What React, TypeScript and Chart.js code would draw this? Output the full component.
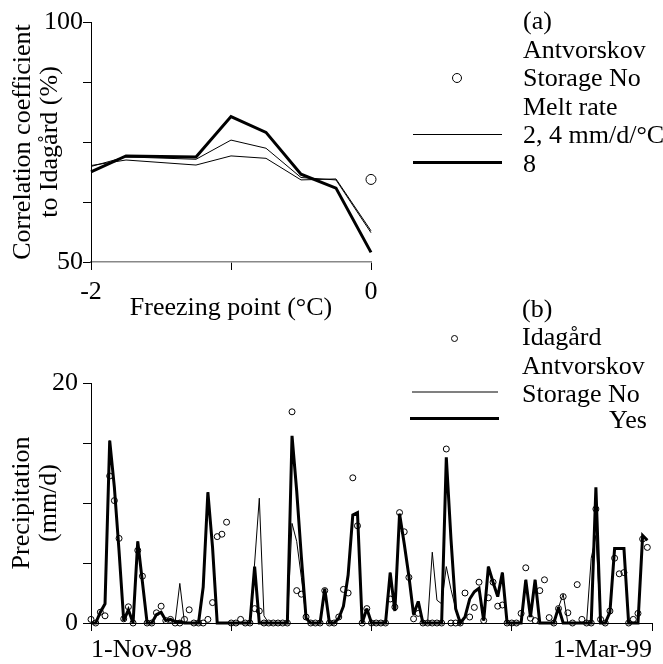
import React, { useEffect, useRef } from 'react';
import { Chart, registerables } from 'chart.js';

Chart.register(...registerables);

const FONT = '"Liberation Serif", "Times New Roman", serif';

// ---------- Panel (a) ----------
const FREEZE_X = [-2, -1.75, -1.25, -1, -0.75, -0.5, -0.25, 0];
const MELT_2 = [70.1, 71.25, 70.2, 72.1, 71.6, 67.1, 67.3, 56.5];
const MELT_4 = [69.9, 71.9, 71.4, 75.4, 73.7, 67.6, 67.1, 56.1];
const MELT_8 = [68.8, 72.1, 71.9, 80.3, 77.0, 68.3, 65.4, 52.0];
const ANT_NO_X = [0];
const ANT_NO_Y = [67.2];
const A_X_TICKS = [-2, -1, 0];
const A_X_LABELS = ['-2', '', '0'];
const A_Y_LABELED = [100, 50];

// ---------- Panel (b) ----------  daily values from 1-Nov-98
const IDAGARD = [
  0.3, 0, 0.9, 0.6, 12.25, 10.2, 7.05, 0.35, 1.35, 0,
  6.05, 3.9, 0, 0, 0.85, 1.4, 0.2, 0.3, 0, 0,
  0.3, 1.1, 0, 0, 0, 0.3, 1.7, 7.2, 7.4, 8.4,
  0, 0, 0.3, 0, 0, 1.2, 1.0, 0, 0, 0,
  0, 0, 0, 17.6, 2.7, 2.4, 0.5, 0, 0, 0,
  2.7, 0, 0, 0.5, 2.8, 2.5, 12.1, 8.1, 0, 1.2,
  0, 0, 0, 0, 2.0, 1.33, 9.2, 7.6, 3.8, 0.35,
  0.8, 0, 0, 0, 0, 0, 14.5, 0, 0, 0,
  2.5, 0.5, 1.3, 3.4, 0.2, 2.1, 3.4, 1.4, 1.5, 0,
  0, 0, 0.8, 4.6, 0.4, 0.2, 2.7, 3.6, 0.45, 0,
  1.2, 2.2, 0.85, 0, 3.2, 0.3, 0, 0, 9.5, 0.3,
  0, 1.0, 5.4, 4.1, 4.2, 0, 0.3, 0.8, 7.0, 6.3,
];
const STORAGE_NO = [
  0, 0, 0.9, 1.6, 15.2, 11.3, 6.0, 0.2, 1.1, 0,
  6.8, 3.4, 0, 0, 0.7, 0.9, 0.2, 0.3, 0.1, 3.3,
  0, 0, 0, 0, 3.0, 10.9, 6.3, 0, 0, 0,
  0, 0, 0, 0, 0, 5.0, 10.4, 0.6, 0, 0,
  0, 0, 0, 8.3, 6.8, 3.8, 0.4, 0, 0, 0,
  2.85, 0, 0, 0.4, 1.4, 4.0, 9.0, 9.2, 0, 1.2,
  0, 0, 0, 0, 4.2, 1.0, 9.1, 6.6, 3.9, 0.7,
  1.8, 0, 0, 5.9, 1.9, 1.6, 4.7, 2.8, 1.2, 0,
  0.5, 2.0, 2.6, 2.9, 0.2, 4.7, 3.4, 2.2, 4.2, 0,
  0, 0, 0, 3.6, 0.5, 3.6, 0, 0, 0, 0,
  1.3, 2.4, 0, 0, 0, 0, 0, 5.4, 7.3, 0,
  0, 0.9, 6.2, 6.2, 6.2, 0, 0, 0, 7.3, 6.9,
];
const STORAGE_YES = [
  0, 0, 0.9, 1.6, 15.2, 11.3, 6.0, 0.2, 1.1, 0,
  6.8, 3.4, 0, 0, 0.7, 0.9, 0.2, 0.3, 0.1, 0.1,
  0, 0, 0, 0, 3.0, 10.9, 6.3, 0, 0, 0,
  0, 0, 0, 0, 0, 4.7, 0, 0, 0, 0,
  0, 0, 0, 15.6, 11.0, 5.5, 0.4, 0, 0, 0,
  2.85, 0, 0, 0.4, 1.4, 4.0, 9.0, 9.2, 0, 1.2,
  0, 0, 0, 0, 4.2, 1.0, 9.1, 6.6, 3.9, 0.7,
  1.8, 0, 0, 0, 0, 0, 13.8, 7.0, 1.2, 0,
  0.5, 2.0, 2.6, 2.9, 0.2, 4.7, 3.4, 2.2, 4.2, 0,
  0, 0, 0, 3.6, 0.5, 3.6, 0, 0, 0, 0,
  1.3, 0, 0, 0, 0, 0, 0, 0, 11.3, 0,
  0, 0.9, 6.2, 6.2, 6.2, 0, 0, 0, 7.3, 6.9,
];
const B_X_TICKS = [0, 30, 60, 90, 120];
const B_X_LABELS = ['1-Nov-98', '', '', '', '1-Mar-99'];
const B_Y_LABELED = [20, 0];

const LEGEND_A = ['(a)', 'Antvorskov', 'Storage No', 'Melt rate', '2, 4 mm/d/°C', '8'];
const LEGEND_B = ['(b)', 'Idagård', 'Antvorskov', 'Storage No'];
const LEGEND_B_LAST = 'Yes';

const pts = (xs: number[], ys: number[]) => ys.map((y, i) => ({ x: xs[i], y }));
const dayPts = (ys: number[]) => ys.map((y, i) => ({ x: i, y }));

const W = 663;
const H = 664;

function tickFont(size = 26) {
  return { family: FONT, size, lineHeight: 1.2 };
}

// keep sharp joins from producing long spikes
const miterPlugin = {
  id: 'miterLimit',
  beforeDatasetsDraw(chart: any) {
    chart.ctx.miterLimit = 3;
  },
};

export default function App() {
  const refA = useRef<HTMLCanvasElement>(null);
  const refB = useRef<HTMLCanvasElement>(null);

  useEffect(() => {
    const chartA = new Chart(refA.current as HTMLCanvasElement, {
      type: 'line',
      plugins: [miterPlugin],
      data: {
        datasets: [
          { data: pts(FREEZE_X, MELT_8), borderColor: '#000', borderWidth: 3, pointRadius: 0, order: 1, clip: false } as any,
          { data: pts(FREEZE_X, MELT_4), borderColor: '#000', borderWidth: 1, pointRadius: 0, order: 2, clip: false },
          { data: pts(FREEZE_X, MELT_2), borderColor: '#000', borderWidth: 1, pointRadius: 0, order: 2, clip: false },
          {
            data: pts(ANT_NO_X, ANT_NO_Y), showLine: false, pointRadius: 5, pointBorderWidth: 1,
            pointBorderColor: '#000', pointBackgroundColor: '#fff', order: 0, clip: false,
          },
        ],
      },
      options: {
        animation: false,
        responsive: false,
        maintainAspectRatio: false,
        devicePixelRatio: 1,
        layout: { padding: { left: 0, top: 22, right: W - 371, bottom: H - 330 } },
        plugins: { legend: { display: false }, tooltip: { enabled: false } },
        scales: {
          x: {
            type: 'linear', min: -2, max: 0,
            afterFit: (s: any) => { s.height = 68; },
            afterBuildTicks: (s: any) => { s.ticks = A_X_TICKS.map((v) => ({ value: v })); },
            ticks: {
              autoSkip: false, maxRotation: 0, padding: 7, color: '#000', font: tickFont(26),
              callback: (v: any) => A_X_LABELS[A_X_TICKS.indexOf(Number(v))] ?? '',
            },
            grid: { drawOnChartArea: false, drawTicks: true, tickLength: 8, tickColor: '#000' },
            border: { display: true, color: '#888', width: 1.5 },
            title: {
              display: true, text: 'Freezing point (°C)', color: '#000',
              font: { family: FONT, size: 26, lineHeight: 1.2 }, padding: { top: 0, bottom: 6 },
            },
          },
          y: {
            type: 'linear', min: 50, max: 100,
            afterFit: (s: any) => { s.width = 91; },
            ticks: {
              stepSize: 12.5, padding: 0, color: '#000', font: tickFont(26),
              callback: (v: any) => (A_Y_LABELED.includes(Number(v)) ? String(v) : ''),
            },
            grid: { drawOnChartArea: false, drawTicks: true, tickLength: 8, tickColor: '#000' },
            border: { display: true, color: '#000', width: 1 },
            title: {
              display: true, text: ['Correlation coefficient', 'to Idagård (%)'], color: '#000',
              font: { family: FONT, size: 26, lineHeight: 1.04 }, padding: { top: 10, bottom: 0 },
            },
          },
        },
      } as any,
    });

    const chartB = new Chart(refB.current as HTMLCanvasElement, {
      type: 'line',
      plugins: [miterPlugin],
      data: {
        datasets: [
          { data: dayPts(STORAGE_NO), borderColor: '#000', borderWidth: 1, pointRadius: 0, order: 2, clip: false } as any,
          { data: dayPts(STORAGE_YES), borderColor: '#000', borderWidth: 3, pointRadius: 0, order: 1, clip: false },
          {
            data: dayPts(IDAGARD), showLine: false, pointRadius: 3, pointBorderWidth: 1,
            pointBorderColor: '#000', pointBackgroundColor: 'rgba(0,0,0,0)', order: 0, clip: false,
          },
        ],
      },
      options: {
        animation: false,
        responsive: false,
        maintainAspectRatio: false,
        devicePixelRatio: 1,
        layout: { padding: { left: 0, top: 383, right: W - 652, bottom: 0 } },
        plugins: { legend: { display: false }, tooltip: { enabled: false } },
        scales: {
          x: {
            type: 'linear', min: 0, max: 120,
            afterFit: (s: any) => { s.height = H - 623; },
            afterBuildTicks: (s: any) => { s.ticks = B_X_TICKS.map((v) => ({ value: v })); },
            ticks: {
              autoSkip: false, maxRotation: 0, padding: 4, align: 'inner', color: '#000', font: tickFont(26),
              callback: (v: any) => B_X_LABELS[B_X_TICKS.indexOf(Number(v))] ?? '',
            },
            grid: { drawOnChartArea: false, drawTicks: true, tickLength: 8, tickColor: '#000' },
            border: { display: true, color: '#000', width: 1 },
          },
          y: {
            type: 'linear', min: 0, max: 20,
            afterFit: (s: any) => { s.width = 91; },
            ticks: {
              stepSize: 5, padding: 5, color: '#000', font: tickFont(26),
              callback: (v: any) => (B_Y_LABELED.includes(Number(v)) ? String(v) : ''),
            },
            grid: { drawOnChartArea: false, drawTicks: true, tickLength: 8, tickColor: '#000' },
            border: { display: true, color: '#000', width: 1 },
            title: {
              display: true, text: ['Precipitation', '(mm/d)'], color: '#000',
              font: { family: FONT, size: 26, lineHeight: 1.04 }, padding: { top: 9, bottom: 0 },
            },
          },
        },
      } as any,
    });

    return () => {
      chartA.destroy();
      chartB.destroy();
    };
  }, []);

  const text: React.CSSProperties = {
    position: 'absolute', fontFamily: FONT, fontSize: 26, lineHeight: '28.5px',
    color: '#000', whiteSpace: 'nowrap', margin: 0,
  };
  const hline = (left: number, right: number, y: number, h: number, color: string): React.CSSProperties => ({
    position: 'absolute', left, top: y - h / 2, width: right - left, height: h, background: color,
  });
  const circle = (cx: number, cy: number, r: number): React.CSSProperties => ({
    position: 'absolute', left: cx - r, top: cy - r, width: 2 * r, height: 2 * r,
    border: '1px solid #000', borderRadius: '50%', boxSizing: 'border-box', background: 'transparent',
  });

  return (
    <div style={{ position: 'absolute', left: 0, top: 0, width: W, height: H, background: '#fff', overflow: 'hidden' }}>
      <canvas ref={refA} width={W} height={H} style={{ position: 'absolute', left: 0, top: 0, width: W, height: H }} />
      <canvas ref={refB} width={W} height={H} style={{ position: 'absolute', left: 0, top: 0, width: W, height: H }} />

      {/* Legend (a) */}
      <div style={{ ...text, left: 523, top: 7 }}>
        {LEGEND_A.map((t) => (<div key={t}>{t}</div>))}
      </div>
      <div style={circle(457, 78, 5)} />
      <div style={hline(413, 502, 134.5, 1, '#000')} />
      <div style={hline(413, 502, 162, 3, '#000')} />

      {/* Legend (b) */}
      <div style={{ ...text, left: 522, top: 294.5 }}>
        {LEGEND_B.map((t) => (<div key={t}>{t}</div>))}
      </div>
      <div style={{ ...text, left: 609, top: 406 }}>{LEGEND_B_LAST}</div>
      <div style={circle(454, 338, 3.5)} />
      <div style={hline(412, 498, 392, 1.5, '#808080')} />
      <div style={hline(410, 499, 418.5, 3, '#000')} />
    </div>
  );
}
